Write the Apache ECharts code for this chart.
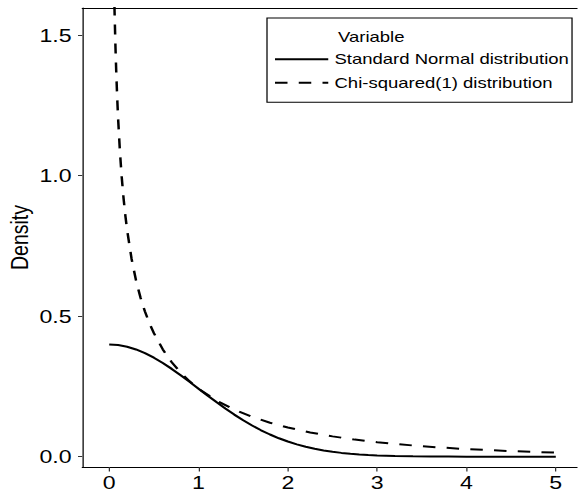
<!DOCTYPE html>
<html>
<head>
<meta charset="utf-8">
<script src="https://cdn.jsdelivr.net/npm/echarts@6/dist/echarts.min.js"></script>
<style>
html,body{margin:0;padding:0;background:#fff;overflow:hidden;}
#main{width:462.4px;height:495px;transform:scaleX(1.25);transform-origin:0 0;}
</style>
</head>
<body>
<div id="main"></div>
<script>
// Data
var seriesNames = ['Standard Normal distribution', 'Chi-squared(1) distribution'];
var xTicks = [0, 1, 2, 3, 4, 5];
var yTicks = [0, 0.5, 1.0, 1.5];

var normalX = [0,0.1,0.2,0.3,0.4,0.5,0.6,0.7,0.8,0.9,1.0,1.1,1.2,1.3,1.4,1.5,1.6,1.7,1.8,1.9,2.0,2.1,2.2,2.3,2.4,2.5,2.6,2.7,2.8,2.9,3.0,3.2,3.4,3.6,3.8,4.0,4.5,5.0];
var normalY = [0.3989,0.3970,0.3910,0.3814,0.3683,0.3521,0.3332,0.3123,0.2897,0.2661,0.2420,0.2179,0.1942,0.1714,0.1497,0.1295,0.1109,0.0940,0.0790,0.0656,0.0540,0.0440,0.0355,0.0283,0.0224,0.0175,0.0136,0.0104,0.0079,0.0060,0.0044,0.0024,0.0012,0.0006,0.0003,0.0001,0.0000,0.0000];

var chiX = [0.05,0.06,0.07,0.08,0.09,0.1,0.12,0.14,0.16,0.18,0.2,0.25,0.3,0.35,0.4,0.45,0.5,0.6,0.7,0.8,0.9,1.0,1.2,1.4,1.6,1.8,2.0,2.25,2.5,2.75,3.0,3.5,4.0,4.5,5.0];
var chiY = [1.740,1.5806,1.4560,1.3552,1.2713,1.2001,1.0846,0.9941,0.9207,0.8594,0.8072,0.7041,0.6269,0.5661,0.5164,0.4749,0.4394,0.3815,0.3360,0.2990,0.2681,0.2420,0.1999,0.1674,0.1417,0.1209,0.1038,0.0863,0.0723,0.0608,0.0514,0.0371,0.0270,0.0198,0.0146];

function zip(xs, ys){ return xs.map(function(x,i){ return [x, ys[i]]; }); }

var FONT = 'Liberation Sans, Arial, Helvetica, sans-serif';
var X_MIN = -0.302, X_MAX = 5.327;
var chart = echarts.init(document.getElementById('main'), null, {renderer:'svg'});
chart.setOption({
  backgroundColor:'#fff',
  animation:false,
  textStyle:{fontFamily:FONT},
  title:{
    text:'Variable', left:270.4, top:29.3, padding:0,
    textStyle:{fontFamily:FONT, fontSize:14.8, fontWeight:'normal', color:'#000'}
  },
  legend:{
    orient:'vertical', left:213.6, top:18,
    padding:[33.8, 2.5, 12, 5.4],
    borderColor:'#000', borderWidth:1, backgroundColor:'#fff',
    itemWidth:42.6, itemHeight:14, itemGap:8.5, itemTextGap:8.8,
    itemStyle:{opacity:0, borderWidth:0},
    textStyle:{fontFamily:FONT, fontSize:14.8, color:'#000'},
    data:seriesNames
  },
  grid:{left:65.8, right:-6, top:8, bottom:28, outerBoundsMode:'none', containLabel:false, show:false},
  xAxis:[{
    type:'value', min:X_MIN, max:X_MAX, position:'bottom',
    axisLine:{show:true, onZero:false, lineStyle:{color:'#000', width:1}},
    axisTick:{show:true, length:4.5, customValues:xTicks, lineStyle:{color:'#333', width:1}},
    axisLabel:{customValues:xTicks, margin:5.5, fontSize:18.5, color:'#000', fontFamily:FONT, formatter:function(v){return String(v);}},
    splitLine:{show:false}
  },{
    type:'value', min:X_MIN, max:X_MAX, position:'top',
    axisLine:{show:true, onZero:false, lineStyle:{color:'#000', width:1}},
    axisTick:{show:false}, axisLabel:{show:false}, splitLine:{show:false}
  }],
  yAxis:{
    type:'value', min:-0.0366, max:1.5957,
    name:'Density', nameLocation:'middle', nameGap:40, nameRotate:90, nameMoveOverlap:false,
    nameTextStyle:{fontSize:19.5, color:'#000', fontFamily:FONT},
    axisLine:{show:true, onZero:false, lineStyle:{color:'#000', width:1}},
    axisTick:{show:true, length:3.4, customValues:yTicks, lineStyle:{color:'#333', width:1}},
    axisLabel:{customValues:yTicks, margin:8.5, fontSize:18.5, color:'#000', fontFamily:FONT, formatter:function(v){return v.toFixed(1);}},
    splitLine:{show:false}
  },
  series:[
    {name:seriesNames[0], type:'line', xAxisIndex:0, data:zip(normalX, normalY), symbol:'none', smooth:false,
     lineStyle:{color:'#000', width:2, type:'solid'}, itemStyle:{color:'#000'}},
    {name:seriesNames[1], type:'line', xAxisIndex:0, data:zip(chiX, chiY), symbol:'none', smooth:false, clip:true,
     lineStyle:{color:'#000', width:2, type:[10,9]}, itemStyle:{color:'#000'}}
  ]
});
</script>
</body>
</html>
